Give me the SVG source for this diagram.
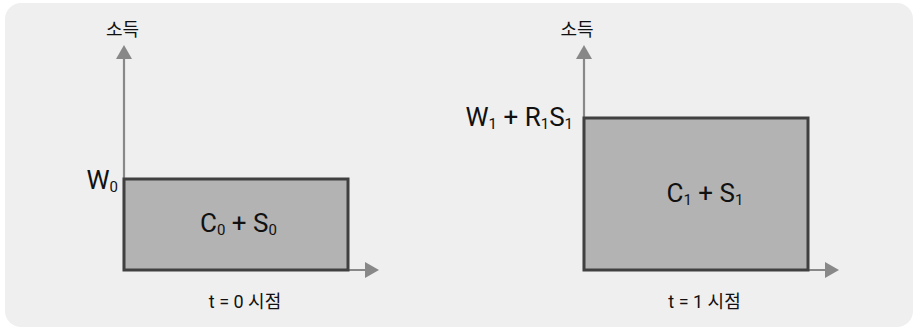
<svg xmlns="http://www.w3.org/2000/svg" width="916" height="327" viewBox="0 0 916 327">
  <style>
    .bg { fill: #efefef; }
    .box { fill: #b3b3b3; stroke: #404040; stroke-width: 3; }
    .axis { stroke: #888888; stroke-width: 2.2; fill: none; }
    text { font-family: Roboto, "Noto Sans CJK KR", sans-serif; fill: #111111; }
    .big { font-size: 26px; }
    .small { font-size: 18px; }
    .sub { font-size: 15px; }
  </style>
  <defs>
    <marker id="arrow" markerUnits="userSpaceOnUse" markerWidth="14" markerHeight="16" refX="0" refY="8" orient="auto">
      <path d="M0,0 L14,8 L0,16 Z" fill="#888888"/>
    </marker>
  </defs>
  <rect class="bg" x="5" y="3" width="908" height="324" rx="16"/>

  <g id="connectors">
    <line class="axis" x1="124" y1="270" x2="124" y2="59" marker-end="url(#arrow)"/>
    <line class="axis" x1="124" y1="270" x2="365" y2="270" marker-end="url(#arrow)"/>
    <line class="axis" x1="584" y1="270" x2="584" y2="59" marker-end="url(#arrow)"/>
    <line class="axis" x1="584" y1="270" x2="825" y2="270" marker-end="url(#arrow)"/>
  </g>

  <g id="box0">
    <rect class="box" x="124" y="179" width="224" height="91"/>
    <text class="big" x="238.5" y="232" text-anchor="middle">C<tspan class="sub" dy="3">0</tspan><tspan dy="-3"> + S</tspan><tspan class="sub" dy="3">0</tspan></text>
  </g>
  <g id="box1">
    <rect class="box" x="584" y="118" width="224" height="152"/>
    <text class="big" x="705" y="202" text-anchor="middle">C<tspan class="sub" dy="3">1</tspan><tspan dy="-3"> + S</tspan><tspan class="sub" dy="3">1</tspan></text>
  </g>

  <g id="labels0">
    <text class="small" x="122.5" y="36" text-anchor="middle">소득</text>
    <text class="big" x="118" y="189" text-anchor="end">W<tspan class="sub" dy="3">0</tspan></text>
    <text class="small" x="245" y="308" text-anchor="middle">t = 0 시점</text>
  </g>
  <g id="labels1">
    <text class="small" x="577" y="36" text-anchor="middle">소득</text>
    <text class="big" x="573" y="126" text-anchor="end">W<tspan class="sub" dy="3">1</tspan><tspan dy="-3"> + R</tspan><tspan class="sub" dy="3">1</tspan><tspan dy="-3">S</tspan><tspan class="sub" dy="3">1</tspan></text>
    <text class="small" x="704.5" y="308" text-anchor="middle">t = 1 시점</text>
  </g>
</svg>
